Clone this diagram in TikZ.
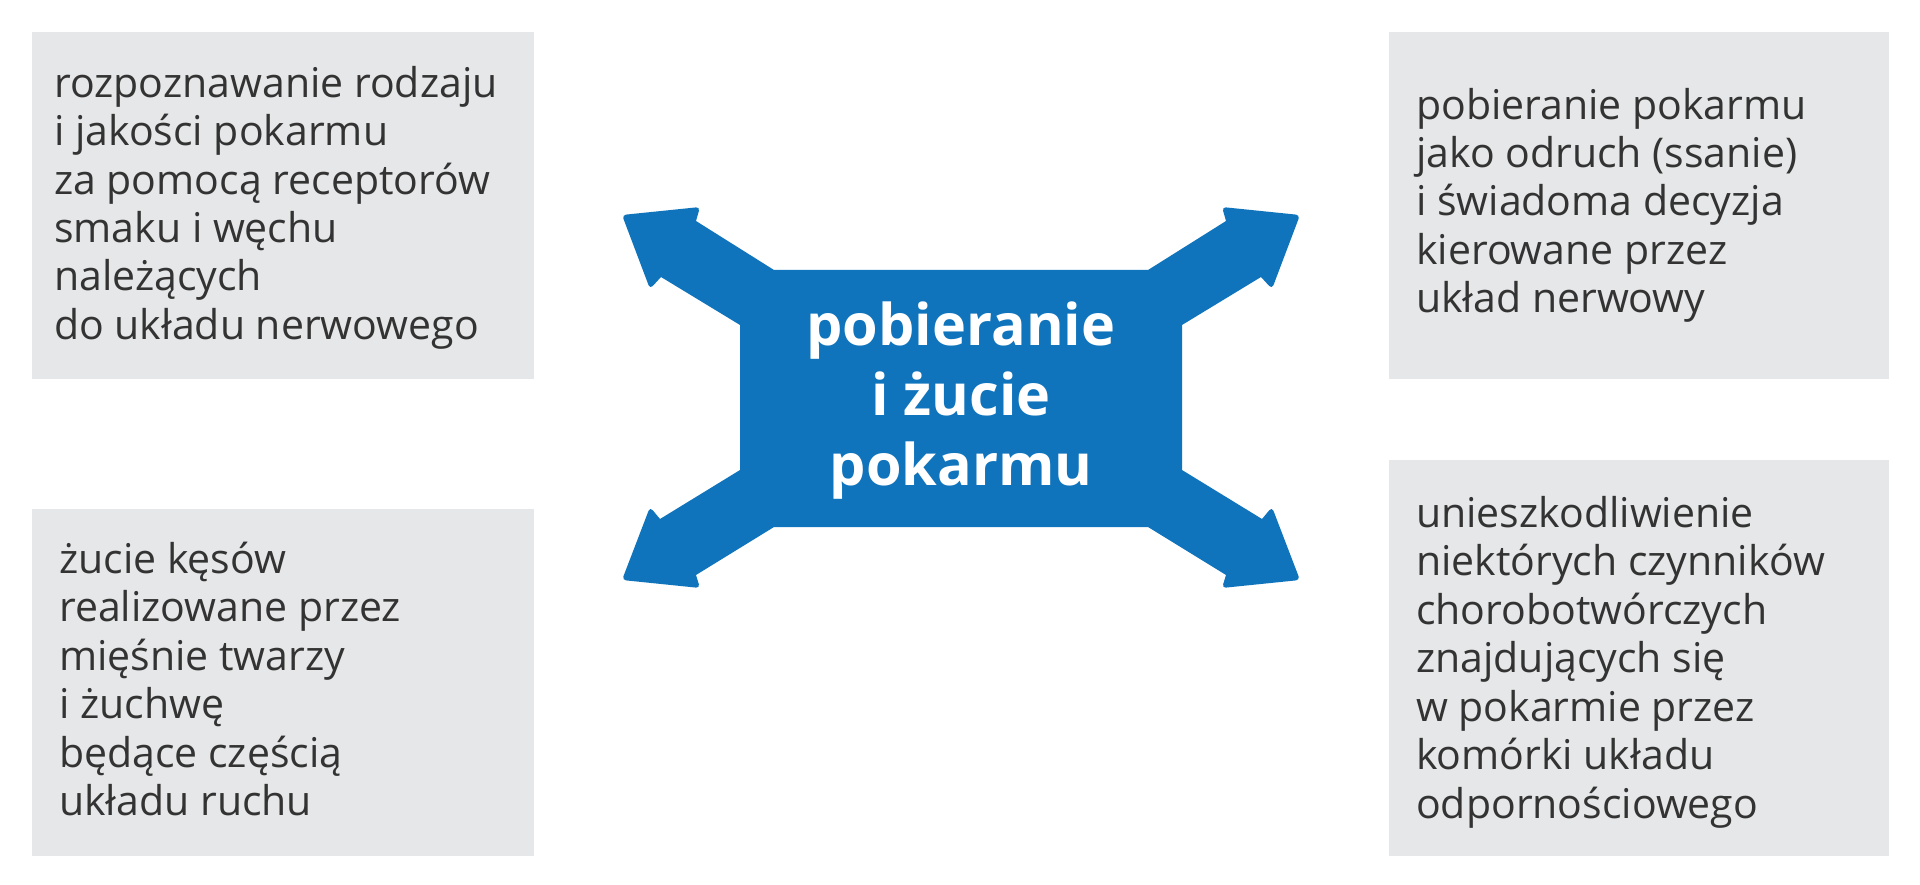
\documentclass[tikz,border=0pt]{standalone}
\usepackage{fontspec}
\setmainfont{Open Sans}
\definecolor{boxgray}{HTML}{E6E7E8}
\definecolor{txtgray}{HTML}{333333}
\definecolor{mainblue}{HTML}{1074BC}
\begin{document}
\begin{tikzpicture}[x=1pt,y=-1pt,
  txt/.style={inner sep=0pt, anchor=base west, align=left, text=txtgray,
    font=\fontsize{41}{48.5}\selectfont},
  boxfill/.style={fill=boxgray},
  ctext/.style={inner sep=0pt, align=center, text=white,
    font=\fontsize{57.5}{70}\selectfont\bfseries}]
\useasboundingbox (0,0) rectangle (1920,885);
% boxes
\fill[boxfill] (32,32) rectangle (534,379);
\fill[boxfill] (32,509) rectangle (534,856);
\fill[boxfill] (1389,32) rectangle (1889,379);
\fill[boxfill] (1389,460) rectangle (1889,856);
% central shape
\fill[mainblue]
  (774,270) -- (1148,270) -- (1226,221)
  [rounded corners=4pt] -- (1222,207) -- (1300,215) -- (1272,289)
  [sharp corners] -- (1261,277) -- (1182,325) -- (1182,470) -- (1262,519)
  [rounded corners=4pt] -- (1272,507) -- (1300,580) -- (1222,588)
  [sharp corners] -- (1226,575) -- (1148,527) -- (774,527) -- (696,575)
  [rounded corners=4pt] -- (700,588) -- (622,580) -- (650,507)
  [sharp corners] -- (660,519) -- (740,470) -- (740,325) -- (661,277)
  [rounded corners=4pt] -- (650,289) -- (622,215) -- (700,207)
  [sharp corners] -- (696,221) -- cycle;
% the base anchor of a multi-line node lies on its last line
\node[ctext, anchor=base] (c) at (961,485) {pobieranie\\ i żucie\\ pokarmu};
% texts
\node[txt] (tl) at (54,339.5) {rozpoznawanie rodzaju\\ i jakości pokarmu\\ za pomocą receptorów\\ smaku i węchu\\ należących\\ do układu nerwowego};
\node[txt] (bl) at (59,815.5) {żucie kęsów\\ realizowane przez\\ mięśnie twarzy\\ i żuchwę\\ będące częścią\\ układu ruchu};
\node[txt] (tr) at (1416,313) {pobieranie pokarmu\\ jako odruch (ssanie)\\ i świadoma decyzja\\ kierowane przez\\ układ nerwowy};
\node[txt] (br) at (1416,818) {unieszkodliwienie\\ niektórych czynników\\ chorobotwórczych\\ znajdujących się\\ w pokarmie przez\\ komórki układu\\ odpornościowego};
\end{tikzpicture}
\end{document}
